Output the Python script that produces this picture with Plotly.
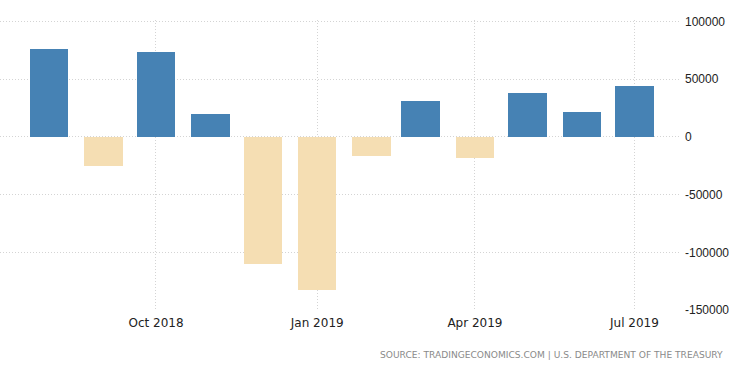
import plotly.graph_objects as go

months = ["2018-08-01", "2018-09-01", "2018-10-01", "2018-11-01", "2018-12-01", "2019-01-01",
          "2019-02-01", "2019-03-01", "2019-04-01", "2019-05-01", "2019-06-01", "2019-07-01"]
balance = [76000, -25000, 73500, 19800, -109800, -132700, -16800, 31400, -18300, 37800, 21800, 44400]
y_ticks = [-150000, -100000, -50000, 0, 50000, 100000]
source_text = "SOURCE: TRADINGECONOMICS.COM | U.S. DEPARTMENT OF THE TREASURY"

colors = ["#4682B4" if v >= 0 else "#F5DEB3" for v in balance]

fig = go.Figure(go.Bar(
    x=months, y=balance, marker_color=colors, marker_line_width=0,
    width=22 * 86400000, hoverinfo="x+y",
))

fig.update_layout(
    width=750, height=373,
    margin=dict(l=0, r=70, t=20, b=62, autoexpand=False),
    paper_bgcolor="white", plot_bgcolor="white",
    showlegend=False,
    bargap=0,
    xaxis=dict(
        type="date", automargin=False,
        range=["2018-07-04", "2019-07-27"],
        tickformat="%b %Y", dtick="M3", tick0="2018-10-01",
        showgrid=True, gridcolor="#d4d4d4", griddash="1px,2px", gridwidth=1,
        zeroline=False, showline=False, ticks="",
        ticklabelstandoff=3,
        tickfont=dict(family="DejaVu Sans", size=12, color="#222222"),
    ),
    yaxis=dict(
        side="right", automargin=False,
        range=[-150867, 101300],
        tickvals=y_ticks, ticktext=[str(v) for v in y_ticks],
        showgrid=True, gridcolor="#d4d4d4", griddash="1px,2px", gridwidth=1,
        zeroline=False, showline=False, ticks="",
        ticklabelstandoff=4,
        tickfont=dict(family="Liberation Sans", size=12, color="#222222"),
    ),
    annotations=[dict(
        text=source_text, xref="paper", yref="paper",
        x=725 / 680, y=-0.151, xanchor="right", yanchor="middle",
        showarrow=False,
        font=dict(family="DejaVu Sans", size=9.1, color="#8a8a8a"),
    )],
)

fig.write_html("out.html", config={"displayModeBar": False},
               post_script="document.body.style.margin='0';")
